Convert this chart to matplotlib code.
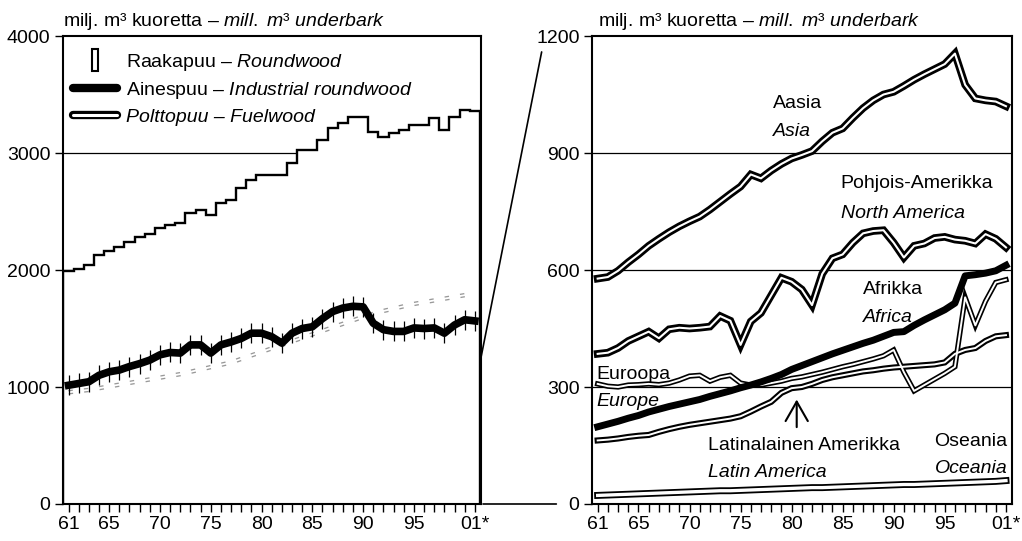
import matplotlib
matplotlib.use('Agg')
import matplotlib.pyplot as plt
from matplotlib.patches import Rectangle, ConnectionPatch
from matplotlib.lines import Line2D
from matplotlib.legend_handler import HandlerTuple, HandlerPatch

plt.rcParams['font.family'] = ['Liberation Sans', 'DejaVu Sans']
plt.rcParams['font.size'] = 14
plt.rcParams['mathtext.fontset'] = 'custom'
plt.rcParams['mathtext.rm'] = 'Liberation Sans'
plt.rcParams['mathtext.it'] = 'Liberation Sans:italic'

years = list(range(1961, 2002))
tick_labels = {1961: '61', 1965: '65', 1970: '70', 1975: '75', 1980: '80',
               1985: '85', 1990: '90', 1995: '95', 2001: '01*'}

# world, mill. m3 underbark
roundwood = [1990, 2010, 2040, 2130, 2160, 2200, 2240, 2280, 2310, 2360,
             2385, 2405, 2490, 2510, 2470, 2570, 2595, 2700, 2770, 2810,
             2812, 2812, 2912, 3026, 3026, 3111, 3211, 3254, 3311, 3311,
             3182, 3134, 3168, 3197, 3239, 3239, 3297, 3197, 3311, 3368, 3359]
industrial = [1015, 1030, 1045, 1100, 1130, 1145, 1175, 1200, 1230, 1275,
              1295, 1290, 1360, 1360, 1290, 1360, 1385, 1415, 1460, 1460,
              1430, 1375, 1460, 1500, 1515, 1585, 1645, 1675, 1690, 1685,
              1545, 1490, 1475, 1475, 1505, 1500, 1505, 1460, 1530, 1575, 1565]
fuelwood = [955, 965, 975, 990, 1005, 1020, 1035, 1050, 1065, 1080,
            1095, 1110, 1130, 1150, 1170, 1190, 1210, 1240, 1270, 1300,
            1330, 1360, 1390, 1420, 1450, 1480, 1510, 1540, 1570, 1600,
            1625, 1650, 1670, 1690, 1710, 1725, 1740, 1755, 1770, 1785, 1800]

# by region
asia = [578, 582, 598, 620, 640, 662, 680, 697, 712, 725,
        737, 755, 775, 795, 814, 845, 835, 855, 872, 886,
        895, 905, 930, 952, 963, 990, 1015, 1035, 1050, 1057,
        1072, 1088, 1102, 1115, 1128, 1155, 1075, 1040, 1035, 1032, 1020]
north_america = [385, 388, 400, 418, 430, 442, 425, 448, 452, 450,
                 452, 455, 482, 470, 408, 468, 490, 535, 580, 570,
                 550, 510, 590, 630, 640, 670, 694, 700, 702, 670,
                 632, 662, 668, 682, 685, 678, 675, 668, 692, 680, 658]
africa = [198, 205, 212, 220, 227, 236, 243, 250, 256, 262,
          268, 276, 283, 290, 298, 305, 313, 322, 332, 345,
          355, 365, 375, 385, 394, 403, 412, 420, 430, 440,
          442, 458, 472, 485, 498, 515, 585, 588, 592, 598, 612]
europe = [308, 302, 300, 305, 306, 308, 306, 310, 318, 328,
          330, 315, 325, 330, 310, 305, 305, 310, 315, 322,
          326, 332, 338, 345, 352, 358, 365, 372, 380, 395,
          338, 290, 305, 320, 335, 352, 530, 458, 520, 568, 575]
latin_america = [163, 165, 168, 172, 175, 177, 185, 192, 198, 203,
                 207, 211, 215, 219, 225, 237, 250, 262, 285, 297,
                 300, 308, 318, 325, 330, 335, 340, 343, 347, 350,
                 352, 354, 356, 358, 363, 385, 395, 400, 418, 430, 433]
oceania = [22, 23, 24, 25, 26, 27, 28, 29, 30, 31,
           32, 33, 34, 34, 35, 36, 37, 38, 39, 40,
           41, 42, 42, 43, 44, 45, 46, 47, 48, 49,
           50, 50, 51, 52, 53, 54, 55, 56, 57, 58, 60]

title = 'milj. m³ kuoretta – $\\mathit{mill.\\ m³\\ underbark}$'


def style_axis(ax, ymax, ystep):
    ax.set_xlim(1960.45, 2001.6)
    ax.set_ylim(0, ymax)
    ax.set_yticks(range(0, ymax + 1, ystep))
    ax.set_xticks(years)
    ax.set_xticklabels([tick_labels.get(y, '') for y in years])
    ax.tick_params(axis='both', direction='out', length=6, width=1, color='black', pad=3)
    for s in ax.spines.values():
        s.set_linewidth(1.5)
    for v in range(ystep, ymax, ystep):
        ax.axhline(v, color='black', lw=0.9, zorder=0.5)


def double_line(ax, y, outer=5, inner=1.5, zorder=2):
    ax.plot(years, y, color='black', lw=outer, solid_joinstyle='miter', zorder=zorder)
    ax.plot(years, y, color='white', lw=inner, zorder=zorder + 0.1)


def narrow_rect(legend, orig_handle, xdescent, ydescent, width, height, fontsize):
    return Rectangle((width / 2 - 2.5 - xdescent, -ydescent - 3), 5, height + 6)


fig = plt.figure(figsize=(10.22, 5.41), dpi=100)
ax1 = fig.add_axes([0.0616, 0.0684, 0.409, 0.865])
ax2 = fig.add_axes([0.5793, 0.0684, 0.411, 0.865])

# left panel: world totals
style_axis(ax1, 4000, 1000)
edges = [y - 0.5 for y in years] + [years[-1] + 0.5]
ax1.stairs(roundwood, edges, baseline=0, fill=True, facecolor='white',
           edgecolor='black', lw=1.7, zorder=1)
ax1.plot(years, fuelwood, color='0.6', lw=3.2, ls=(0, (1, 2.5)), zorder=2)
ax1.plot(years, fuelwood, color='white', lw=1.3, zorder=2.1)
ax1.plot(years, industrial, color='black', lw=5.5, marker='|', ms=14, mew=0.9, zorder=3)
ax1.text(0.0, 1.008, title, transform=ax1.transAxes, ha='left', va='bottom')

h_rw = Rectangle((0, 0), 1, 1, facecolor='white', edgecolor='black', lw=1.5)
h_ind = Line2D([], [], color='black', lw=6, solid_capstyle='round')
h_fw = (Line2D([], [], color='black', lw=6, solid_capstyle='round'),
        Line2D([], [], color='white', lw=2.2, solid_capstyle='round'))
leg = ax1.legend([h_rw, h_ind, h_fw],
                 ['Raakapuu – $\\mathit{Roundwood}$',
                  'Ainespuu – $\\mathit{Industrial\\ roundwood}$',
                  'Polttopuu – Fuelwood'],
                 loc='upper left', bbox_to_anchor=(-0.014, 1.0),
                 frameon=False, handlelength=2.3, handletextpad=0.45,
                 borderaxespad=0.45, borderpad=0.35, labelspacing=0.38,
                 handler_map={tuple: HandlerTuple(ndivide=1),
                              Rectangle: HandlerPatch(patch_func=narrow_rect)})
leg.get_texts()[2].set_fontstyle('italic')

# right panel: by region
style_axis(ax2, 1200, 300)
double_line(ax2, asia, outer=5.5)
double_line(ax2, north_america, outer=5.5)
double_line(ax2, europe, outer=3.8, inner=1.4)
double_line(ax2, latin_america, outer=4.4, inner=1.4)
double_line(ax2, oceania, outer=5, inner=2.4)
ax2.plot(years, africa, color='black', lw=5, zorder=3)
ax2.text(0.015, 1.008, title, transform=ax2.transAxes, ha='left', va='bottom')

labels = [('Aasia', 'Asia', 1978.2, 1028, 954),
          ('Pohjois-Amerikka', 'North America', 1984.8, 823, 746),
          ('Afrikka', 'Africa', 1987.0, 549, 479),
          ('Euroopa', 'Europe', 1960.9, 331, 262),
          ('Latinalainen Amerikka', 'Latin America', 1971.8, 151, 82),
          ('Oseania', 'Oceania', 1994.0, 159, 92)]
for fi, en, x, y1, y2 in labels:
    ax2.text(x, y1, fi, ha='left', va='center', zorder=5)
    ax2.text(x, y2, en, ha='left', va='center', style='italic', zorder=5)

ax2.annotate('', xy=(1980.5, 275), xytext=(1980.5, 190),
             arrowprops=dict(arrowstyle='->, head_length=0.7, head_width=0.4',
                             lw=1.5, color='black', mutation_scale=20))

# zoom connectors between panels
fig.add_artist(ConnectionPatch(xyA=(2001.6, 1250), coordsA=ax1.transData,
                               xyB=(-0.12, 0.966), coordsB=ax2.transAxes,
                               color='black', lw=1.2))
fig.add_artist(ConnectionPatch(xyA=(1.005, 0), coordsA=ax1.transAxes,
                               xyB=(-0.085, 0), coordsB=ax2.transAxes,
                               color='black', lw=1.2))

fig.savefig('out.png', dpi=100)
